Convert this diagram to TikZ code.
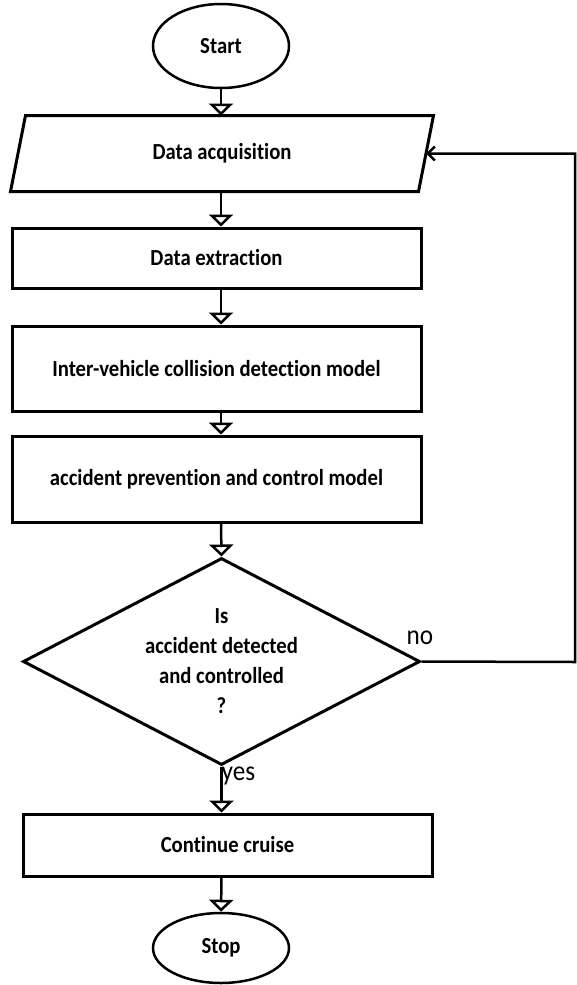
\documentclass[tikz,border=0pt]{standalone}
\usepackage{fontspec}
\setmainfont{Carlito}[FakeStretch=0.9,Ligatures=NoCommon]
\usetikzlibrary{shapes.geometric,arrows.meta}

\begin{document}
\begin{tikzpicture}[x=1pt,y=-1pt,
	box/.style={draw,line width=3pt,rectangle,minimum width=409pt,inner sep=0pt,font=\bfseries\fontsize{23}{28}\selectfont},
	term/.style={draw,line width=2.5pt,ellipse,minimum width=136pt,inner sep=0pt,font=\bfseries\fontsize{23}{28}\selectfont},
	flow/.style={line width=2.5pt,-{Triangle[open,length=12pt,width=24pt]}},
	lbl/.style={inner sep=0pt,anchor=base west,font=\fontsize{28}{30}\selectfont}]
	\useasboundingbox (0,0) rectangle (576,985);
	\node[term,minimum height=84pt] (start) at (221,46) {Start};
	\node[box,draw=none,minimum width=405pt,minimum height=73pt] (acq) at (222,153.5) {Data acquisition};
	\draw[line width=3pt] ([xshift=7.5pt]acq.north west) -- ([xshift=7.5pt]acq.north east) -- ([xshift=-7.5pt]acq.south east) -- ([xshift=-7.5pt]acq.south west) -- cycle;
	\node[box,minimum height=60pt] (extr) at (216.5,258) {Data extraction};
	\node[box,minimum height=85pt] (icd) at (216.5,368.5) {Inter-vehicle collision detection model};
	\node[box,minimum height=86pt] (apc) at (216.5,479) {accident prevention and control model};
	\node[draw,line width=3pt,diamond,aspect=1.9,minimum width=397pt,minimum height=207pt,inner sep=0pt,align=center,font=\bfseries\fontsize{23}{30}\selectfont] (diam) at (221.5,661.5) {Is\\accident detected\\and controlled\\?};
	\node[box,minimum height=62pt] (cont) at (227.5,845) {Continue cruise};
	\node[term,minimum height=70pt] (stop) at (221,948) {Stop};
	\coordinate (back) at (575,662);
	\draw[flow] (start) -- (start |- acq.north);
	\draw[flow] (start |- acq.south) -- (start |- extr.north);
	\draw[flow] (start |- extr.south) -- (start |- icd.north);
	\draw[flow] (start |- icd.south) -- (start |- apc.north);
	\draw[flow] (start |- apc.south) -- (diam.north);
	\draw[flow] (diam.south) -- (diam |- cont.north);
	\draw[flow] (diam |- cont.south) -- (stop.north);
	\draw[line width=2.5pt,-{Straight Barb[length=7pt,width=14pt]}] (diam.east) -- (back) |- (acq.east);
	\node[lbl] (no) at ([xshift=-15pt,yshift=17pt]diam.east) {no};
	\node[lbl] (yes) at ([yshift=-14pt]diam.south) {yes};
\end{tikzpicture}
\end{document}
